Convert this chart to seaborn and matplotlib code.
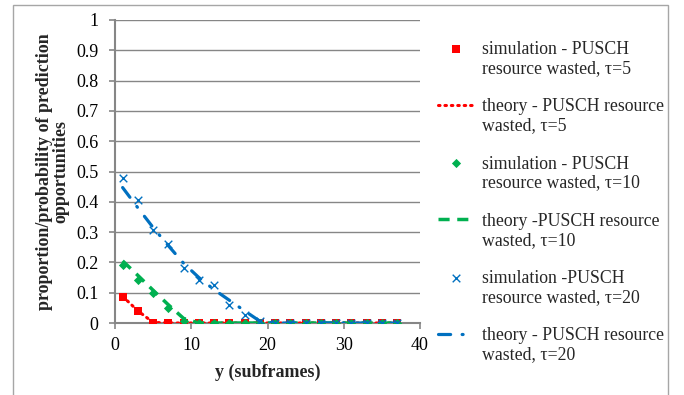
import matplotlib
matplotlib.use("Agg")
import matplotlib.pyplot as plt
from matplotlib.patches import Rectangle
import seaborn as sns

# subframe offsets sampled in simulation / theory
sim_y = [1, 3, 5, 7, 9, 11, 13, 15, 17, 19, 21, 23, 25, 27, 29, 31, 33, 35, 37]
theory_y = sim_y

sim_tau5 = [0.087, 0.040, 0, 0, 0, 0, 0, 0, 0, 0, 0, 0, 0, 0, 0, 0, 0, 0, 0]
theory_tau5 = [0.088, 0.040, 0.002, 0, 0, 0, 0, 0, 0, 0, 0, 0, 0, 0, 0, 0, 0, 0, 0]
sim_tau10 = [0.190, 0.142, 0.098, 0.050, 0.008, 0, 0, 0, 0, 0, 0, 0, 0, 0, 0, 0, 0, 0, 0]
theory_tau10 = [0.205, 0.157, 0.108, 0.060, 0.015, 0, 0, 0, 0, 0, 0, 0, 0, 0, 0, 0, 0, 0, 0]
sim_tau20 = [0.478, 0.405, 0.307, 0.260, 0.180, 0.142, 0.126, 0.058, 0.025, 0.008,
             0, 0, 0, 0, 0, 0, 0, 0, 0]
theory_tau20 = [0.447, 0.380, 0.315, 0.255, 0.197, 0.150, 0.110, 0.075, 0.040, 0.006,
                0, 0, 0, 0, 0, 0, 0, 0, 0]

labels = [
    "simulation - PUSCH\nresource wasted, τ=5",
    "theory - PUSCH resource\nwasted, τ=5",
    "simulation - PUSCH\nresource wasted, τ=10",
    "theory -PUSCH resource\nwasted, τ=10",
    "simulation -PUSCH\nresource wasted, τ=20",
    "theory - PUSCH resource\nwasted, τ=20",
]

RED, GREEN, BLUE = "#FF0000", "#00B050", "#0070C0"
AXIS_GRAY = "#868686"

sns.set_theme(style="white")
plt.rcParams["font.family"] = ["Liberation Serif", "DejaVu Serif"]

fig = plt.figure(figsize=(6.84, 3.95), dpi=100)
ax = fig.add_axes([115 / 684, 1 - 323 / 395, 305 / 684, 303 / 395])

# chart-area frame
fig.patches.append(Rectangle((13 / 684, -0.05), (668 - 13) / 684, 1.05 - 5 / 395,
                             transform=fig.transFigure, fill=False,
                             edgecolor="#a6a6a6", linewidth=1.0, zorder=0))

# simulation markers and theory curves, in series order
sns.scatterplot(x=sim_y, y=sim_tau5, ax=ax, marker="s", color=RED, s=36,
                linewidth=0, label=labels[0], zorder=3)
sns.lineplot(x=theory_y, y=theory_tau5, ax=ax, color=RED, lw=2.2,
             linestyle=(0, (0.5, 1.6)), dash_capstyle="round",
             label=labels[1], zorder=3)
sns.scatterplot(x=sim_y, y=sim_tau10, ax=ax, marker="D", color=GREEN, s=22,
                linewidth=0, label=labels[2], zorder=4)
sns.lineplot(x=theory_y, y=theory_tau10, ax=ax, color=GREEN, lw=2.5,
             linestyle=(0, (3.2, 2.2)), label=labels[3], zorder=4)
sns.scatterplot(x=sim_y, y=sim_tau20, ax=ax, marker="x", color=BLUE, s=30,
                linewidth=1.0, label=labels[4], zorder=5)
sns.lineplot(x=theory_y, y=theory_tau20, ax=ax, color=BLUE, lw=2.3,
             linestyle=(0, (3.8, 3.6, 0.3, 3.6)), dash_capstyle="round",
             label=labels[5], zorder=5)

ax.set_xlim(0, 40)
ax.set_ylim(0, 1)
ax.set_xticks([0, 10, 20, 30, 40])
ax.set_yticks([i / 10 for i in range(11)])
ax.set_yticklabels(["0", "0.1", "0.2", "0.3", "0.4", "0.5", "0.6", "0.7", "0.8",
                    "0.9", "1"])
ax.yaxis.grid(True, color=AXIS_GRAY, linewidth=1.0)
ax.xaxis.grid(False)
ax.set_axisbelow(True)
for side in ("top", "right"):
    ax.spines[side].set_visible(False)
for side in ("left", "bottom"):
    ax.spines[side].set_color(AXIS_GRAY)
    ax.spines[side].set_linewidth(1.5)
ax.tick_params(axis="both", direction="out", length=4, width=1.2, color=AXIS_GRAY,
               labelsize=13, labelcolor="black", left=True, bottom=True)
ax.tick_params(axis="y", pad=8)
ax.tick_params(axis="x", pad=6)
ax.set_facecolor("white")

ax.set_xlabel("y (subframes)", fontsize=13, fontweight="bold", labelpad=7)
ax.set_ylabel("proportion/probability of prediction\nopportunities", fontsize=13,
              fontweight="bold", labelpad=5, linespacing=0.95)

leg = ax.legend(loc="upper left", bbox_to_anchor=(438 / 684, 1 - 41 / 395),
                bbox_transform=fig.transFigure, frameon=False, fontsize=12.8,
                handlelength=2.0, handletextpad=0.45, labelspacing=1.2,
                borderaxespad=0, borderpad=0, markerscale=1.0)
for col in leg._legend_handle_box.get_children():
    for row in col.get_children():
        row.align = "top"
for t in leg.get_texts():
    t.set_linespacing(1.15)

fig.savefig("out.png", dpi=100, facecolor="white")
